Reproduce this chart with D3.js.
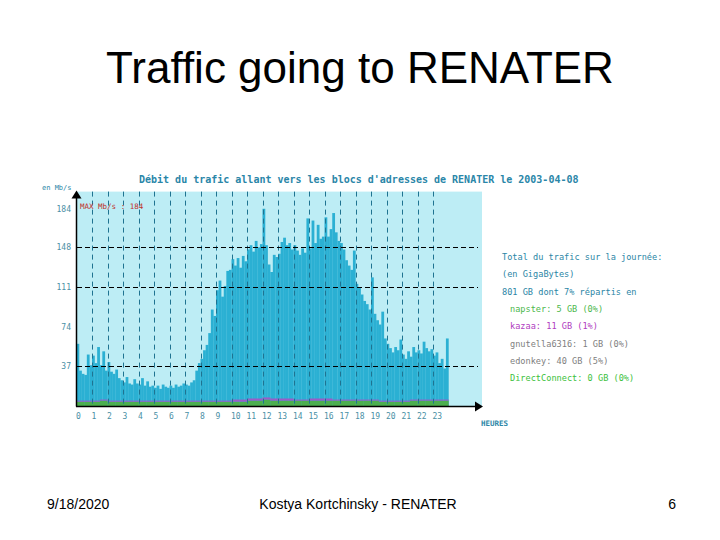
<!DOCTYPE html>
<html>
<head>
<meta charset="utf-8">
<script src="https://cdn.jsdelivr.net/npm/d3@7"></script>
<style>
  html, body { margin: 0; padding: 0; background: #ffffff; }
  svg { display: block; }
</style>
</head>
<body>
<svg id="chart" width="720" height="540"></svg>
<script>
// ---------------- DATA ----------------
const slideTitle = "Traffic going to RENATER";
const chartTitle = "Débit du trafic allant vers les blocs d'adresses de RENATER le 2003-04-08";
const footerDate = "9/18/2020";
const footerCenter = "Kostya Kortchinsky - RENATER";
const footerPage = "6";

const hours = d3.range(0, 24);                 // hour labels 0..23
const yTickValues = [37, 74, 111, 148, 184];   // Mb/s tick labels
const gridValues = [37, 111, 148];             // dashed horizontal lines
const maxLabel = "MAX Mb/s : 184";

// total traffic, Mb/s, 10-minute samples (6 per hour)
const totalTraffic = [
  58, 33, 30, 29, 48, 38,        // 0h
  47, 40, 55, 38, 51, 33,        // 1h
  41, 32, 30, 34, 26, 24,        // 2h
  22, 27, 21, 20, 25, 21,        // 3h
  20, 26, 19, 23, 18, 19,        // 4h
  17, 19, 16, 20, 18, 17,        // 5h
  19, 17, 20, 18, 19, 21,        // 6h
  20, 19, 22, 24, 33, 40,        // 7h
  44, 52, 57, 68, 90, 84,        // 8h
  108, 117, 102, 112, 126, 127,  // 9h
  137, 131, 138, 129, 140, 135,  // 10h
  146, 150, 144, 154, 148, 151,  // 11h
  184, 150, 132, 125, 141, 139,  // 12h
  142, 153, 157, 150, 152, 146,  // 13h
  150, 145, 141, 147, 143, 175,  // 14h
  147, 173, 152, 169, 156, 158,  // 15h
  176, 158, 165, 180, 162, 154,  // 16h
  152, 146, 136, 131, 127, 145,  // 17h
  114, 111, 104, 98, 95, 90,     // 18h
  120, 86, 80, 76, 88, 63,       // 19h
  58, 54, 50, 55, 52, 62,        // 20h
  48, 44, 51, 46, 55, 50,        // 21h
  52, 49, 60, 54, 51, 53,        // 22h
  47, 50, 40, 44, 35, 63         // 23h
];

// p2p layers at the bottom, Mb/s, 30-minute samples
const greenLayer = [
  4, 4, 4, 5, 4, 4, 4, 4, 4, 4, 4, 4, 4, 4, 4, 4,
  4, 4, 4, 4, 4, 4, 5, 5, 6, 5, 5, 5, 5, 5, 5, 5,
  5, 5, 5, 5, 5, 5, 5, 4, 4, 4, 4, 5, 5, 5, 5, 5
];
const purpleLayer = [
  1, 1, 1, 1, 1, 1, 1, 1, 1, 1, 1, 1, 1, 1, 1, 1,
  1, 1, 1, 1, 2, 2, 2, 2, 2, 2, 2, 2, 1, 1, 2, 2,
  2, 1, 1, 1, 1, 1, 1, 1, 1, 1, 1, 1, 1, 1, 1, 1
];

const legendLines = [
  { text: "Total du trafic sur la journée:", color: "#2b86a6", indent: 0 },
  { text: "(en GigaBytes)", color: "#2b86a6", indent: 0 },
  { text: "801 GB dont 7% répartis en", color: "#2b86a6", indent: 0 },
  { text: "napster: 5 GB (0%)", color: "#4cb84c", indent: 1 },
  { text: "kazaa: 11 GB (1%)", color: "#b03cc0", indent: 1 },
  { text: "gnutella6316: 1 GB (0%)", color: "#808080", indent: 1 },
  { text: "edonkey: 40 GB (5%)", color: "#808080", indent: 1 },
  { text: "DirectConnect: 0 GB (0%)", color: "#3cbf3c", indent: 1 }
];

// ---------------- DRAW ----------------
const svg = d3.select("#chart");
const mono = "'DejaVu Sans Mono', monospace";

// slide title + footer
svg.append("text").attr("x", 360).attr("y", 83).attr("text-anchor", "middle")
  .attr("font-family", "'Liberation Sans', Arial, sans-serif").attr("font-size", 44)
  .attr("fill", "#000").text(slideTitle);
svg.append("text").attr("x", 47).attr("y", 509)
  .attr("font-family", "'Liberation Sans', Arial, sans-serif").attr("font-size", 14)
  .attr("fill", "#000").text(footerDate);
svg.append("text").attr("x", 358).attr("y", 509).attr("text-anchor", "middle")
  .attr("font-family", "'Liberation Sans', Arial, sans-serif").attr("font-size", 14)
  .attr("fill", "#000").text(footerCenter);
svg.append("text").attr("x", 676).attr("y", 509).attr("text-anchor", "end")
  .attr("font-family", "'Liberation Sans', Arial, sans-serif").attr("font-size", 14)
  .attr("fill", "#000").text(footerPage);

// scales
const x = d3.scaleLinear().domain([0, 24]).range([76.5, 448.5]);
const y = d3.scaleLinear().domain([0, 200]).range([406, 191.6]);
const xRight = 482;

// plot background
svg.append("rect").attr("x", 77).attr("y", y(200)).attr("width", xRight - 77)
  .attr("height", y(0) - y(200)).attr("fill", "#bdedf5");

// total traffic bars
const step = 1 / 6;
svg.append("g").selectAll("rect").data(totalTraffic).join("rect")
  .attr("x", (d, i) => x(i * step))
  .attr("width", (d, i) => x((i + 1) * step) - x(i * step) + 0.2)
  .attr("y", d => y(d)).attr("height", d => y(0) - y(d))
  .attr("fill", "#2bb0d3");

// bottom layers (green + purple)
const half = 0.5;
svg.append("g").selectAll("rect").data(greenLayer).join("rect")
  .attr("x", (d, i) => x(i * half)).attr("width", (d, i) => x((i + 1) * half) - x(i * half) + 0.2)
  .attr("y", d => y(d)).attr("height", d => y(0) - y(d)).attr("fill", "#4caf4f");
svg.append("g").selectAll("rect").data(purpleLayer).join("rect")
  .attr("x", (d, i) => x(i * half)).attr("width", (d, i) => x((i + 1) * half) - x(i * half) + 0.2)
  .attr("y", (d, i) => y(greenLayer[i] + d)).attr("height", (d, i) => y(greenLayer[i]) - y(greenLayer[i] + d))
  .attr("fill", "#9a5cc8");

// vertical dashed hour lines
svg.append("g").selectAll("line").data(hours.slice(1)).join("line")
  .attr("x1", d => Math.round(x(d)) + 0.5).attr("x2", d => Math.round(x(d)) + 0.5)
  .attr("y1", y(200)).attr("y2", y(0))
  .attr("stroke", "#1f7391").attr("stroke-width", 1).attr("stroke-dasharray", "5,4");

// horizontal dashed grid lines
svg.append("g").selectAll("line").data(gridValues).join("line")
  .attr("x1", 77).attr("x2", 478)
  .attr("y1", d => Math.round(y(d)) + 0.5).attr("y2", d => Math.round(y(d)) + 0.5)
  .attr("stroke", "#000").attr("stroke-width", 1).attr("stroke-dasharray", "5,3");

// axes lines with arrows
svg.append("line").attr("x1", 76.5).attr("x2", 76.5).attr("y1", y(196)).attr("y2", y(0) + 0.5)
  .attr("stroke", "#000").attr("stroke-width", 1.5);
svg.append("path").attr("d", `M76.5,${y(200) - 1} l-5,8 l10,0 z`).attr("fill", "#000");
svg.append("line").attr("x1", 76).attr("x2", 476).attr("y1", y(0) + 0.5).attr("y2", y(0) + 0.5)
  .attr("stroke", "#000").attr("stroke-width", 1.5);
svg.append("path").attr("d", `M483,${y(0) + 0.5} l-8,-5 l0,10 z`).attr("fill", "#000");

// y tick labels via axis
const yAxis = svg.append("g").attr("transform", "translate(71,0)")
  .call(d3.axisLeft(y).tickValues(yTickValues).tickSize(0).tickPadding(0));
yAxis.select(".domain").remove();
yAxis.selectAll("text").attr("font-family", mono).attr("font-size", 8)
  .attr("fill", "#4a8fa5").attr("text-anchor", "end");

// x tick labels via axis
const xAxis = svg.append("g").attr("transform", `translate(0,${y(0) + 7})`)
  .call(d3.axisBottom(x).tickValues(hours).tickSize(0).tickPadding(0).tickFormat(d3.format("d")));
xAxis.select(".domain").remove();
xAxis.selectAll("text").attr("font-family", mono).attr("font-size", 8)
  .attr("fill", "#4a8fa5").attr("text-anchor", "start").attr("dx", -1);

// axis titles
svg.append("text").attr("x", 42).attr("y", 190).attr("font-family", mono).attr("font-size", 7)
  .attr("fill", "#2b86a6").text("en Mb/s");
svg.append("text").attr("x", 481).attr("y", 426).attr("font-family", mono).attr("font-size", 7.5)
  .attr("font-weight", "bold").attr("fill", "#2b86a6").text("HEURES");

// chart title
svg.append("text").attr("x", 139).attr("y", 183).attr("font-family", mono).attr("font-size", 10)
  .attr("font-weight", "bold").attr("fill", "#2a86a8").text(chartTitle);

// max label
svg.append("text").attr("x", 80).attr("y", 209).attr("font-family", mono).attr("font-size", 7.5)
  .attr("fill", "#c0302a").text(maxLabel);

// legend text
svg.append("g").selectAll("text").data(legendLines).join("text")
  .attr("x", d => 502 + d.indent * 8).attr("y", (d, i) => 260 + i * 17.3)
  .attr("font-family", mono).attr("font-size", 8.6)
  .attr("fill", d => d.color).text(d => d.text);
</script>
</body>
</html>
